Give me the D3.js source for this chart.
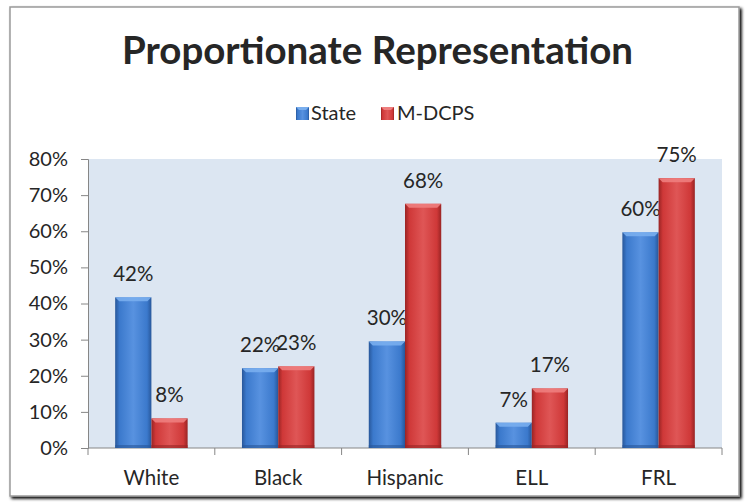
<!DOCTYPE html>
<html>
<head>
<meta charset="utf-8">
<script src="https://cdn.jsdelivr.net/npm/d3@7"></script>
<style>
  html, body { margin: 0; padding: 0; background: #fff; }
  svg { display: block; }
  text { font-family: Lato, "Open Sans", sans-serif; fill: #262626; }
</style>
</head>
<body>
<div id="chart"></div>
<script>
const categories = ["White", "Black", "Hispanic", "ELL", "FRL"];
const seriesNames = ["State", "M-DCPS"];
const stateValues = [0.417, 0.221, 0.295, 0.070, 0.597];
const mdcpsValues = [0.082, 0.226, 0.676, 0.165, 0.747];
const yTicks = [0, 0.1, 0.2, 0.3, 0.4, 0.5, 0.6, 0.7, 0.8];
const titleText = "Proportionate Representation";

const W = 745, H = 504;
const plot = { left: 88, right: 722, top: 159, bottom: 448 };
const colors = {
  State: { dark: "#28579a", mid: "#3b79cc", light: "#5892e0", bevel: "#79aeee" },
  "M-DCPS": { dark: "#992424", mid: "#cf3838", light: "#df5656", bevel: "#ee7e7e" }
};

const svg = d3.select("#chart").append("svg").attr("width", W).attr("height", H);
const defs = svg.append("defs");

const f = defs.append("filter").attr("id", "shadow").attr("x", "-5%").attr("y", "-5%").attr("width", "110%").attr("height", "110%");
f.append("feGaussianBlur").attr("in", "SourceAlpha").attr("stdDeviation", 1.5).attr("result", "b");
f.append("feOffset").attr("in", "b").attr("dx", 1.5).attr("dy", 1.5).attr("result", "o");
const fm = f.append("feMerge");
fm.append("feMergeNode").attr("in", "o");
fm.append("feMergeNode").attr("in", "SourceGraphic");

seriesNames.forEach((s, i) => {
  const g = defs.append("linearGradient").attr("id", "grad" + i).attr("x1", "0").attr("x2", "1").attr("y1", "0").attr("y2", "0");
  g.append("stop").attr("offset", "0%").attr("stop-color", colors[s].dark);
  g.append("stop").attr("offset", "12%").attr("stop-color", colors[s].mid);
  g.append("stop").attr("offset", "50%").attr("stop-color", colors[s].light);
  g.append("stop").attr("offset", "88%").attr("stop-color", colors[s].mid);
  g.append("stop").attr("offset", "100%").attr("stop-color", colors[s].dark);
});

svg.append("rect").attr("x", 0).attr("y", 0).attr("width", W).attr("height", H).attr("fill", "#fff");
svg.append("rect").attr("x", 10).attr("y", 7).attr("width", 729).attr("height", 489)
  .attr("fill", "#fff").attr("stroke", "#9a9a9a").attr("stroke-width", 1.5).attr("filter", "url(#shadow)");

const x0 = d3.scaleBand().domain(categories).range([plot.left, plot.right]).padding(0);
const groupW = x0.bandwidth() * 2 / 3.5;
const x1 = d3.scaleBand().domain(seriesNames).range([0, groupW]).padding(0);
const y = d3.scaleLinear().domain([0, 0.8]).range([plot.bottom, plot.top]);

svg.append("rect").attr("x", plot.left).attr("y", plot.top)
  .attr("width", plot.right - plot.left).attr("height", plot.bottom - plot.top)
  .attr("fill", "#dce6f2");

const yAxis = d3.axisLeft(y).tickValues(yTicks).tickFormat(d3.format(".0%")).tickSize(7).tickPadding(13);
const gy = svg.append("g").attr("transform", `translate(${plot.left},0)`).call(yAxis);
gy.select(".domain").attr("stroke", "#868686");
gy.selectAll(".tick line").attr("stroke", "#868686");
gy.selectAll(".tick text").attr("font-size", 20).attr("fill", "#262626").style("font-family", "Lato");

const boundaries = categories.map(c => x0(c)).concat([plot.right]);
const gx = svg.append("g");
gx.append("line").attr("x1", plot.left).attr("x2", plot.right).attr("y1", plot.bottom).attr("y2", plot.bottom).attr("stroke", "#868686");
gx.selectAll("line.t").data(boundaries).enter().append("line").attr("class", "t")
  .attr("x1", d => d).attr("x2", d => d).attr("y1", plot.bottom).attr("y2", plot.bottom + 7).attr("stroke", "#868686");
gx.selectAll("text").data(categories).enter().append("text")
  .attr("x", d => x0(d) + x0.bandwidth() / 2).attr("y", 485)
  .attr("text-anchor", "middle").attr("font-size", 20.5).text(d => d);

const data = categories.map((c, i) => ({ cat: c, vals: [
  { s: "State", v: stateValues[i], idx: 0 },
  { s: "M-DCPS", v: mdcpsValues[i], idx: 1 }
]}));
const groupOffset = (x0.bandwidth() - groupW) / 2;
const groups = svg.append("g").selectAll("g").data(data).enter().append("g")
  .attr("transform", d => `translate(${x0(d.cat) + groupOffset},0)`);

const bars = groups.selectAll("g.bar").data(d => d.vals).enter().append("g").attr("class", "bar");
bars.append("rect")
  .attr("x", d => x1(d.s)).attr("y", d => y(d.v))
  .attr("width", x1.bandwidth()).attr("height", d => y(0) - y(d.v))
  .attr("fill", d => `url(#grad${d.idx})`);
bars.append("path")
  .attr("d", d => {
    const xl = x1(d.s), xr = xl + x1.bandwidth(), yt = y(d.v), b = 4;
    return `M${xl},${yt}L${xr},${yt}L${xr - b},${yt + b}L${xl + b},${yt + b}Z`;
  })
  .attr("fill", d => colors[d.s].bevel).attr("opacity", 0.9);
bars.append("rect")
  .attr("x", d => x1(d.s)).attr("y", y(0) - 3)
  .attr("width", x1.bandwidth()).attr("height", 3)
  .attr("fill", d => colors[d.s].dark).attr("opacity", 0.6);

bars.append("text")
  .attr("x", d => x1(d.s) + x1.bandwidth() / 2)
  .attr("y", d => y(d.v) - 16)
  .attr("text-anchor", "middle").attr("font-size", 20.5)
  .text(d => d3.format(".0%")(d.v));

svg.append("text").attr("x", 377.5).attr("y", 63.5).attr("text-anchor", "middle")
  .attr("font-size", 38.5).attr("font-weight", "bold").attr("fill", "#0d0d0d").text(titleText);

const legendItems = [
  { s: "State", x: 296, tx: 311 },
  { s: "M-DCPS", x: 381, tx: 397 }
];
const lg = svg.append("g");
legendItems.forEach((it, i) => {
  lg.append("rect").attr("x", it.x).attr("y", 107).attr("width", 13).attr("height", 13)
    .attr("fill", `url(#grad${i})`);
  lg.append("path").attr("d", `M${it.x},107L${it.x + 13},107L${it.x + 10},110L${it.x + 3},110Z`)
    .attr("fill", colors[it.s].bevel);
  lg.append("text").attr("x", it.tx).attr("y", 120).attr("font-size", 20).text(it.s);
});
</script>
</body>
</html>
